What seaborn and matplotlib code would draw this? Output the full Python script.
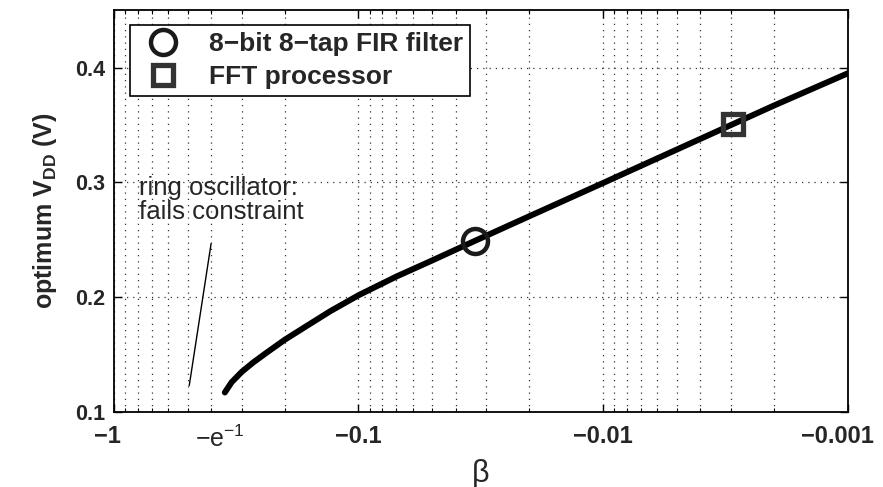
import numpy as np
import pandas as pd
import matplotlib
matplotlib.use("Agg")
import matplotlib.pyplot as plt
import matplotlib.transforms as mtransforms
import seaborn as sns
from matplotlib.lines import Line2D
from matplotlib.ticker import FixedLocator, FixedFormatter, LogLocator, NullFormatter

# Data (x stored as |beta|, axis shows -|beta| on reversed log scale)
beta_abs = [0.352, 0.33, 0.30, 0.27, 0.24, 0.20, 0.16, 0.13, 0.1, 0.07, 0.05,
            0.0335, 0.02, 0.01, 0.005, 0.00293, 0.002, 0.001]
vdd_opt = [0.117, 0.126, 0.135, 0.143, 0.151, 0.163, 0.176, 0.188, 0.2017, 0.218, 0.232,
           0.249, 0.2706, 0.2995, 0.3286, 0.351, 0.367, 0.395]

fir_beta = [0.0335]
fir_vdd = [0.249]
fft_beta = [0.00293]
fft_vdd = [0.351]

x_ticks = [1, 0.1, 0.01, 0.001]
x_ticklabels = ["\u22121", "\u22120.1", "\u22120.01", "\u22120.001"]
y_ticks = [0.1, 0.2, 0.3, 0.4]
y_ticklabels = ["0.1", "0.2", "0.3", "0.4"]
legend_labels = ["8\u2212bit 8\u2212tap FIR filter", "FFT processor"]

sns.set_style("ticks")
plt.rcParams["font.family"] = ["Liberation Sans", "DejaVu Sans"]
plt.rcParams["mathtext.fontset"] = "custom"
plt.rcParams["mathtext.rm"] = "Liberation Sans"
plt.rcParams["mathtext.it"] = "Liberation Sans"
plt.rcParams["mathtext.bf"] = "Liberation Sans:bold"

fig = plt.figure(figsize=(8.83, 4.87), dpi=100)
ax = fig.add_axes([0.129, 0.154, 0.831, 0.825])

df = pd.DataFrame({"beta": beta_abs, "vdd": vdd_opt})
sns.lineplot(data=df, x="beta", y="vdd", ax=ax, color="black", linewidth=4.3,
             sort=False, estimator=None, zorder=3)

ax.plot(fir_beta, fir_vdd, linestyle="none", marker="o", markersize=18,
        markerfacecolor="none", markeredgecolor="#1a1a1a", markeredgewidth=3.2, zorder=4)
ax.plot(fft_beta, fft_vdd, linestyle="none", marker="s", markersize=14.5,
        markerfacecolor="none", markeredgecolor="#333333", markeredgewidth=3.8, zorder=4)

ax.set_xscale("log")
ax.set_xlim(1, 0.001)
ax.set_ylim(0.1, 0.45)

ax.xaxis.set_major_locator(FixedLocator(x_ticks))
ax.xaxis.set_major_formatter(FixedFormatter(x_ticklabels))
ax.xaxis.set_minor_locator(LogLocator(base=10, subs=np.arange(2, 10), numticks=20))
ax.xaxis.set_minor_formatter(NullFormatter())
ax.yaxis.set_major_locator(FixedLocator(y_ticks))
ax.yaxis.set_major_formatter(FixedFormatter(y_ticklabels))

ax.tick_params(which="both", direction="in", top=True, right=True, color="black")
ax.tick_params(which="major", length=6, width=1.0)
ax.tick_params(which="minor", length=3, width=0.8)
ax.tick_params(axis="x", which="major", labelsize=17, pad=9)
ax.tick_params(axis="y", which="major", labelsize=15.5, pad=6)
for lab in ax.get_xticklabels() + ax.get_yticklabels():
    lab.set_fontweight("bold")

# keep the end labels inside the figure, as in the reference
xlabs = ax.get_xticklabels()
xlabs[0].set_transform(xlabs[0].get_transform() +
                       mtransforms.ScaledTranslation(-6 / 100, 0, fig.dpi_scale_trans))
xlabs[-1].set_transform(xlabs[-1].get_transform() +
                        mtransforms.ScaledTranslation(-10 / 100, 0, fig.dpi_scale_trans))

ax.grid(True, axis="x", which="both", linestyle=(0, (1, 4)), color="#333333", linewidth=0.9)
ax.grid(True, axis="y", which="major", linestyle=(0, (1, 4)), color="#333333", linewidth=0.9)

for sp in ax.spines.values():
    sp.set_linewidth(1.3)
    sp.set_color("black")

# -e^{-1} label
ax.text(np.exp(-1), -0.035, r"$\mathregular{-e^{-1}}$", transform=ax.get_xaxis_transform(),
        ha="center", va="top", fontsize=18, fontweight="normal")

ax.set_xlabel("\u03b2", fontsize=22, fontweight="normal", labelpad=8)
ax.set_ylabel(r"optimum V$_{\mathbf{DD}}$ (V)", fontsize=18, fontweight="bold", labelpad=12)

# annotation
ax.text(0.79, 0.285, "ring oscillator:\nfails constraint", fontsize=18.5,
        ha="left", va="center", linespacing=1.0, zorder=5)
ax.annotate("", xy=(0.494, 0.1206), xytext=(0.399, 0.249),
            arrowprops=dict(arrowstyle="-", color="black", linewidth=1.0))

handles = [
    Line2D([], [], linestyle="none", marker="o", markersize=18, markerfacecolor="none",
           markeredgecolor="#1a1a1a", markeredgewidth=3.2),
    Line2D([], [], linestyle="none", marker="s", markersize=14.5, markerfacecolor="none",
           markeredgecolor="#333333", markeredgewidth=3.8),
]
leg = ax.legend(handles, legend_labels, loc="upper left", bbox_to_anchor=(0.022, 0.962),
                frameon=True, fancybox=False, framealpha=1, edgecolor="black",
                prop={"weight": "bold", "size": 19}, handlelength=2.0, handletextpad=0.75,
                borderpad=0.25, labelspacing=0.35, borderaxespad=0.0)
leg.get_frame().set_linewidth(1.2)

fig.savefig("out.png", dpi=100)
